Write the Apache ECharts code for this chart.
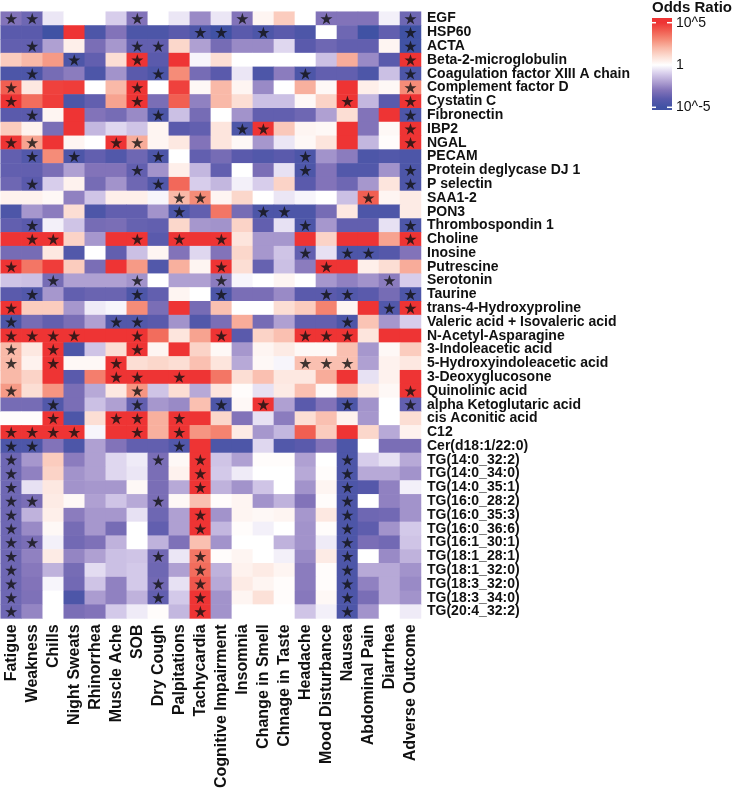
<!DOCTYPE html>
<html>
<head>
<meta charset="utf-8">
<script src="https://cdn.jsdelivr.net/npm/echarts@6/dist/echarts.min.js"></script>
<style>
html,body{margin:0;padding:0;background:#fff;}
#chart{width:738px;height:791px;}
</style>
</head>
<body>
<div id="chart"></div>
<script>
const symptoms = ['Fatigue','Weakness','Chills','Night Sweats','Rhinorrhea','Muscle Ache','SOB','Dry Cough','Palpitations','Tachycardia','Cognitive Impairment','Insomnia','Change in Smell','Chnage in Taste','Headache','Mood Disturbance','Nausea','Abdominal Pain','Diarrhea','Adverse Outcome'];

const analytes = ['EGF','HSP60','ACTA','Beta-2-microglobulin','Coagulation factor XIII A chain','Complement factor D','Cystatin C','Fibronectin','IBP2','NGAL','PECAM','Protein deglycase DJ 1','P selectin','SAA1-2','PON3','Thrombospondin 1','Choline','Inosine','Putrescine','Serotonin','Taurine','trans-4-Hydroxyproline','Valeric acid + Isovaleric acid','N-Acetyl-Asparagine','3-Indoleacetic acid','5-Hydroxyindoleacetic acid','3-Deoxyglucosone','Quinolinic acid','alpha Ketoglutaric acid','cis Aconitic acid','C12','Cer(d18:1/22:0)','TG(14:0_32:2)','TG(14:0_34:0)','TG(14:0_35:1)','TG(16:0_28:2)','TG(16:0_35:3)','TG(16:0_36:6)','TG(16:1_30:1)','TG(18:1_28:1)','TG(18:1_32:0)','TG(18:3_32:0)','TG(18:3_34:0)','TG(20:4_32:2)'];

// log10(odds ratio), one row per analyte, one column per symptom
const log10OR = [
 [-3,-3.5,-0.5,0,0,-1,-3,0,-0.5,-2.5,-0.5,-3,0.3,1.5,0,-3,-3,-3,-0.3,-3.5],
 [-4,-4,-5,5,-4.5,-3,-4.5,-4.5,-4,-4.5,-5,-4,-4.5,-4,-4.5,0,-3.5,-5,-3.8,-5],
 [-3.8,-3.8,-2,0.5,-3.2,-2.2,-3.8,-3.8,1.2,-2,-3.3,-2.5,-2.5,-0.8,-4,-3.5,-3.8,-3.8,0.3,-5],
 [1.5,2,2.7,-4.5,-3.8,1,5,-4,5,-0.2,1,0,0,0,0,-1.3,2.3,-2.5,-4,5],
 [-4.5,-4.5,-3.3,-2.8,-4.5,-2.3,-4,-4.5,3,-3.3,-4,-0.5,-4.5,-2.8,-4.5,-3.8,-3.8,-4.5,-1.3,-4.5],
 [4,0.7,4.7,4.8,0,2,5,0,4.7,0.2,2,0.3,-2.5,0,2.2,0.2,5,0.5,0.2,3],
 [5,3.7,4.8,-4.5,-3.8,2.5,5,-3.2,4,-2.7,2,1,-1.3,-1.3,0.2,1.3,5,-1.5,-4,5],
 [-4,-4,0.3,5,-3,-3.3,-2.5,-4.5,-1.3,-3.3,0,-2.3,-3.8,-3.8,-3.5,-2,1,-3,5,-4.5],
 [1.5,0.4,-3.2,5,-1.5,-0.8,-1.2,0.3,-4,-3.8,0.8,-4.5,5,1.6,0.3,0.2,5,-3,0.2,5],
 [5,2.5,5,0.3,0,5,2.3,0.3,0.7,-3,0.8,0.2,-2.2,-0.5,0.2,0.8,5,-1.5,0.1,5],
 [-3.8,-4.3,3,-4.5,-3.8,-4.3,-3.5,-4.5,0,-3.8,-3.3,-4,-4.3,-4,-4.5,-2.3,-2.8,-4.5,-4.3,-4.5],
 [-3.8,-3.8,-3.2,-2,-3,-3,-3.8,-2.3,0.5,-1.5,-3.8,0,-3.2,-0.6,-4.5,-3,-4.3,-4.3,-2.3,-4.5],
 [-3.5,-4,-1,0.4,-3.3,-2.3,-3.5,-4.3,3.8,-1,-1.5,-0.3,-1,1.3,-4,-3,-3.5,-2.2,0.8,-4.5],
 [0.4,0.4,0.2,-2.7,-1.2,0.5,0.5,-0.2,2,3,0.3,1.2,0,-0.5,-0.2,0,-1.3,4,0.3,0.6],
 [-4.5,-2.2,-2.8,1,-4.5,-3.8,-3.8,-2.3,-4.5,-3.8,3.5,-3.3,-4.5,-4.5,-4.5,-3.3,0.7,-4.5,-4.5,0.6],
 [-3.8,-4,-0.3,-1.2,-3.3,-3.2,-3.7,-3.8,1.2,-2.2,-2.3,1.3,-3.8,-0.6,-4.5,-2.2,-3.8,-3.8,-0.6,-4.5],
 [5,5,5,1.3,-2.2,5,5,-4,5,5,5,0.8,-2.2,-2.2,5,1.3,5,5,2.5,5],
 [-3.3,-3.3,0.7,-4.3,0,-3.8,-1.3,0.3,-3,-0.8,-3,1.2,-2.2,-1.2,-3.8,-0.6,-4.5,-4.5,-4.2,-3],
 [5,3.5,4.8,1.5,-3.2,5,2.7,-4.3,2.2,0.3,5,1,-3.7,-1.3,-2.8,5,5,0.5,1,2.3],
 [-1.2,-1.3,-3.3,-2,-2,-2,-2.3,0,-2,-2,-2.8,-0.2,0,0.3,0,-2.2,-2.7,-2.3,-2.8,-1],
 [-4,-4.3,-2.2,-3.8,-3.6,-3.6,-4.5,-3.8,0.3,0,-4.5,-3.2,-3.2,-2.5,-4,-4,-4.3,-4,-3.3,-4.5],
 [5,1.5,1.5,-2.2,-0.4,-0.2,3,-3.2,5,-3.3,1.8,0,0,1,1.5,3.2,0.3,5,-4.3,5],
 [-4.5,-3.3,-3.8,-3.2,-2,-4.3,-4.3,-4,-2.3,-4.3,-3.2,2.3,-3.3,-2,-3.8,-3.8,-4.5,1.7,-2.2,-1],
 [5,5,5,5,5,5,5,3.7,0.8,2.5,5,-4,1.3,1.8,5,5,5,0.8,5,5],
 [2,0.7,5,-4.5,-1.2,1,5,0.3,5,1.3,0.2,-2.2,0.3,0.6,0.2,0.2,1.8,-2.2,0.2,1.5],
 [2,0.4,5,0.2,0.2,5,1,1.2,1,1.8,0.8,-1.8,0.2,-0.2,1.8,1.8,1.8,-2,0.4,0.7],
 [2,1.3,5,-4,3.3,5,5,5,5,5,3.5,1,1.8,0.7,0.7,2.3,5,-0.6,0.4,5],
 [2.7,1,2.8,-3.2,-1.8,0.7,2.8,-1.2,1,-1.8,0.8,0.1,-0.6,0.6,1.8,0.2,2,0.6,0.2,5],
 [-3.3,-3.3,-4.3,-3.2,-1.3,-2,-3.8,-2.2,-2.5,1.8,-4.5,0.2,5,-2,-4,-3,-4.5,-2.3,0,-3.8],
 [0.1,0.1,5,-4.5,1,5,5,2.2,5,5,1.2,-3,-0.6,-2.8,1,1.8,0.4,-2.2,0,1],
 [5,5,5,5,-0.2,5,5,2.2,5,2.8,3.2,0.6,-2.2,-1.5,4,1.5,5,1.2,-1.8,0.4],
 [-4.5,-4.5,-3,-4.5,-2,-3,-3.8,-3.8,-4.3,5,-4.5,-4.5,-0.8,-4.3,-4,-3,-4.5,0,-3.2,-3.2],
 [-3.5,-2.2,1.5,-2.8,-2,-0.8,-0.4,-3.2,0.2,5,-1.2,-2,0.1,0.1,-2,0,-4.5,-1,-0.6,-1.8],
 [-3.5,-2.7,1.3,-2.3,-2,-0.8,-0.5,-3.2,0.4,5,-1.1,-0.4,0,0,-1.8,0.1,-4.5,-1.8,-1.8,-2.3],
 [-3.5,-0.6,0.7,-2.3,-2.2,-2.2,0.2,-3.2,-1.8,5,-1.6,-2.3,-1.2,0,-2.3,0.3,-4.5,-4.2,-2.7,-0.3],
 [-3.5,-3.2,0.6,0.2,-2,-1.2,-1.8,-3.2,0.2,1.8,0.1,0.3,-2.3,-1.6,-3,0.1,-4.5,0,-2.7,-2.3],
 [-3.5,-1.6,0.5,-2.8,-2.2,-2.2,-0.6,-3.5,-2,5,-2.3,0.3,0.2,0.3,-2.2,0.7,-4.5,-3.5,-3.4,-2.3],
 [-3.5,-2.5,0.2,-3.3,-2.2,-3.3,0,-3.8,-2,5,-1.5,0.1,-0.3,0,-2.3,0.1,-4.5,-3.9,-2.3,-1.1],
 [-3.5,-3.2,-0.3,-3.4,-3.1,-1.6,0,-1.6,-3.1,1.8,-2.3,0,0,-1.6,-2.3,-0.4,-4.5,-3.2,-3.4,-1.2],
 [-3.5,-2.7,0.6,-2.6,-2,-1.3,-1.2,-3.4,-0.5,3.5,0.1,0.3,0,-0.3,-2.5,0.6,-4.5,0,-2.5,-1.6],
 [-3.5,-2.9,-1.6,-3.3,-0.7,-1.3,-1.1,-3.5,-2,3.7,-1.6,0.4,0.6,0.3,-2.8,0.1,-4.5,-1.8,-1.8,-2.3],
 [-3.5,-3,-0.2,-3.4,-1.2,-2.7,-1.1,-3.4,-0.6,4.2,-1.8,0.6,0.3,0.1,-2.8,0.1,-4.5,-2.7,-1.8,-2.5],
 [-3.5,-3.1,0,-4.5,-2.1,-2.7,-1.6,-3.8,-1.1,5,-2.3,0.3,0.9,0.1,-2.9,0.2,-4.5,-3.2,-1.8,-2.3],
 [-3.5,-2.6,0,-3.2,-3,-1.1,-0.4,0.1,-1.5,5,-2.3,0,0,0,-1.2,-0.3,-4.5,-2.3,0,-0.4]
];

// symptom column indices marked significant (*) for each analyte row
const significant = [
 [0,1,6,11,15,19],[9,10,12,19],[1,6,7,19],[3,6,19],[1,7,14,19],[0,6,19],[0,6,16,19],[1,7,19],[11,12,19],[0,1,5,6,19],
 [1,3,7,14],[6,14,19],[1,7,19],[8,9,17],[8,12,13],[1,14,19],[1,2,6,8,10,19],[14,16,17],[0,10,15],[2,6,10,18],
 [1,6,10,15,16,19],[0,18,19],[0,5,6,16],[0,1,2,3,6,10,14,15,16],[0,2,6],[0,2,5,14,15,16],[5,6,8],[0,6,19],[2,6,10,12,16,19],[2,5,6,8],
 [0,1,2,3,6,8],[0,1,8],[0,7,9,16],[0,9,16],[0,9,16],[0,1,7,16],[0,9,16],[0,9,16],[0,1,16],[0,7,9,16],
 [0,9,16],[0,7,9,16],[0,7,9,16],[0,9,16]
];

const legendLabels = ['10^5', '1', '10^-5'];
const scaleMin = -5, scaleMax = 5;

const palette = ['#4052A4','#5A5AAC','#8273B9','#AFA0D2','#D7CDEB','#FFFFFF','#FCDED4','#F9B9A8','#F58C78','#F15F52','#EE3434'];

const heatData = [];
log10OR.forEach((row, r) => row.forEach((v, c) => heatData.push([c, r, v])));
const starData = [];
significant.forEach((cols, r) => cols.forEach(c => starData.push([c, r])));

const FONT = '"Liberation Sans", Arial, sans-serif';
const gridLeft = 0.7, gridTop = 11.7, gridW = 420.3, gridH = 609;

const barX = 652, barY = 18, barW = 20, barH = 92;
const tickTop = 22.7, tickBot = 107.3;
const gradStops = palette.slice().reverse().map((c, i) => ({
  offset: ((tickTop - barY) + (tickBot - tickTop) * i / (palette.length - 1)) / barH,
  color: c
}));
gradStops.unshift({offset: 0, color: palette[palette.length - 1]});
gradStops.push({offset: 1, color: palette[0]});

const chart = echarts.init(document.getElementById('chart'), null, {renderer: 'canvas'});
const legendGraphics = [
  {type: 'text', left: 652, top: 0, style: {text: 'Odds Ratio', font: 'bold 15px ' + FONT, fill: '#111'}},
  {type: 'rect', shape: {x: barX, y: barY, width: barW, height: barH},
   style: {fill: new echarts.graphic.LinearGradient(0, 0, 0, 1, gradStops)}},
];
[tickTop, tickBot].forEach(y => {
  legendGraphics.push({type: 'line', shape: {x1: barX, y1: y, x2: barX + 4, y2: y}, style: {stroke: '#fff', lineWidth: 1.5}});
  legendGraphics.push({type: 'line', shape: {x1: barX + barW - 5, y1: y, x2: barX + barW, y2: y}, style: {stroke: '#fff', lineWidth: 1.5}});
});
const labelY = [tickTop, (tickTop + tickBot) / 2, tickBot];
legendLabels.forEach((t, i) => {
  legendGraphics.push({type: 'text', x: 676, y: labelY[i],
    style: {text: t, font: '14px ' + FONT, fill: '#111', verticalAlign: 'middle', textVerticalAlign: 'middle'}});
});

chart.setOption({
  animation: false,
  backgroundColor: '#fff',
  grid: {left: gridLeft, top: gridTop, width: gridW, height: gridH, containLabel: false},
  xAxis: {
    type: 'category', data: symptoms,
    axisLine: {show: false}, axisTick: {show: false}, splitArea: {show: false},
    axisLabel: {rotate: 90, interval: 0, margin: 6, fontSize: 16, fontWeight: 'bold', color: '#111', fontFamily: FONT}
  },
  yAxis: {
    type: 'category', data: analytes, inverse: true, position: 'right',
    axisLine: {show: false}, axisTick: {show: false}, splitArea: {show: false},
    axisLabel: {interval: 0, margin: 6, fontSize: 14, fontWeight: 'bold', color: '#111', fontFamily: FONT}
  },
  visualMap: {
    show: false, type: 'continuous', min: scaleMin, max: scaleMax, dimension: 2, seriesIndex: 0,
    inRange: {color: palette}
  },
  graphic: legendGraphics,
  series: [
    {type: 'heatmap', data: heatData, progressive: 0, emphasis: {disabled: true},
     itemStyle: {borderWidth: 0}},
    {type: 'scatter', data: starData, z: 5, silent: true,
     symbol: 'path://M50,0 L61.2,34.5 L97.6,34.5 L68.2,55.9 L79.4,90.5 L50,69.1 L20.6,90.5 L31.8,55.9 L2.4,34.5 L38.8,34.5 Z',
     symbolSize: [12, 11.5], itemStyle: {color: '#111'}}
  ]
});
</script>
</body>
</html>
